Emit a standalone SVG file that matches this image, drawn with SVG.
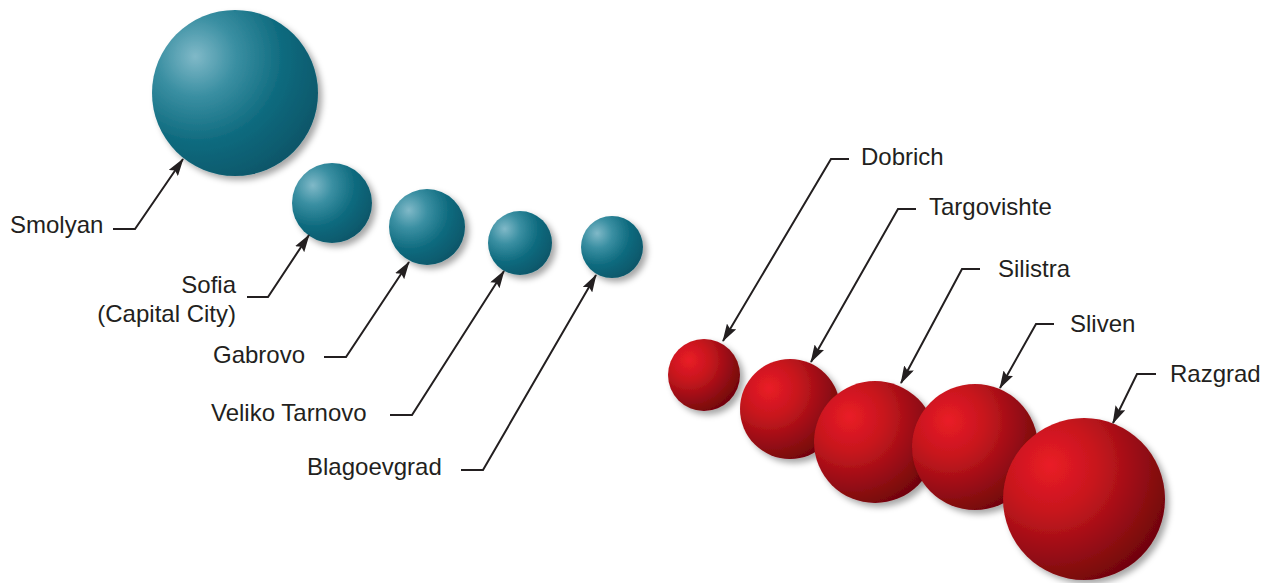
<svg xmlns="http://www.w3.org/2000/svg" width="1265" height="583" viewBox="0 0 1265 583">
<style>
text{font-family:"Liberation Sans",Arial,sans-serif;font-size:24px;fill:#231f20}
.ln{fill:none;stroke:#231f20;stroke-width:2;marker-end:url(#ah)}
.teal{fill:url(#gTeal);filter:url(#sh)}
.red{fill:url(#gRed);filter:url(#sh)}
</style>
<defs>
<radialGradient id="gTeal" cx="0.28" cy="0.28" fx="0.26" fy="0.28" r="0.8">
<stop offset="0" stop-color="#80b9c8"/>
<stop offset="0.3" stop-color="#3a8fa2"/>
<stop offset="0.65" stop-color="#0e6a7e"/>
<stop offset="1" stop-color="#075669"/>
</radialGradient>
<radialGradient id="gRed" cx="0.3" cy="0.3" fx="0.29" fy="0.29" r="0.8">
<stop offset="0" stop-color="#ea1c26"/>
<stop offset="0.35" stop-color="#c8161e"/>
<stop offset="0.75" stop-color="#8e0b12"/>
<stop offset="1" stop-color="#6c0409"/>
</radialGradient>
<filter id="sh" x="-20%" y="-20%" width="150%" height="150%">
<feDropShadow dx="4" dy="4" stdDeviation="3" flood-color="#000" flood-opacity="0.35"/>
</filter>
<marker id="ah" viewBox="0 0 18 11" refX="17" refY="5.5" markerWidth="18" markerHeight="11" markerUnits="userSpaceOnUse" orient="auto">
<path d="M0,0 L18,5.5 L0,11 L3,5.5 z" fill="#231f20"/>
</marker>
</defs>

<g id="smolyan"><circle class="teal" cx="235" cy="93" r="83"/><text x="10" y="233">Smolyan</text></g>
<g id="sofia"><circle class="teal" cx="332" cy="203" r="40"/><text x="236" y="293" text-anchor="end">Sofia</text><text x="236" y="322" text-anchor="end">(Capital City)</text></g>
<g id="gabrovo"><circle class="teal" cx="427" cy="227" r="38"/><text x="213" y="363">Gabrovo</text></g>
<g id="veliko-tarnovo"><circle class="teal" cx="520" cy="243" r="32"/><text x="211" y="421">Veliko Tarnovo</text></g>
<g id="blagoevgrad"><circle class="teal" cx="612" cy="247" r="31"/><text x="307" y="475">Blagoevgrad</text></g>

<g id="dobrich"><circle class="red" cx="704" cy="375" r="36"/><text x="861" y="165">Dobrich</text></g>
<g id="targovishte"><circle class="red" cx="790" cy="409" r="50"/><text x="929" y="215">Targovishte</text></g>
<g id="silistra"><circle class="red" cx="875" cy="442" r="61"/><text x="998" y="277">Silistra</text></g>
<g id="sliven"><circle class="red" cx="975" cy="447" r="63"/><text x="1070" y="332">Sliven</text></g>
<g id="razgrad"><circle class="red" cx="1084" cy="499" r="81"/><text x="1170" y="382">Razgrad</text></g>

<g id="connectors">
<polyline class="ln" points="113,229 135,229 183,159"/>
<polyline class="ln" points="247,297 268,297 309,235"/>
<polyline class="ln" points="324,357 346,357 409,262"/>
<polyline class="ln" points="390,415 412,415 504,271"/>
<polyline class="ln" points="461,470 483,470 596,275"/>
<polyline class="ln" points="849,159 831,159 723,341"/>
<polyline class="ln" points="916,209 898,209 811,362"/>
<polyline class="ln" points="980,269 962,269 901,383"/>
<polyline class="ln" points="1054,324 1036,324 1000,388"/>
<polyline class="ln" points="1156,374 1137,374 1113,423"/>
</g>
</svg>
